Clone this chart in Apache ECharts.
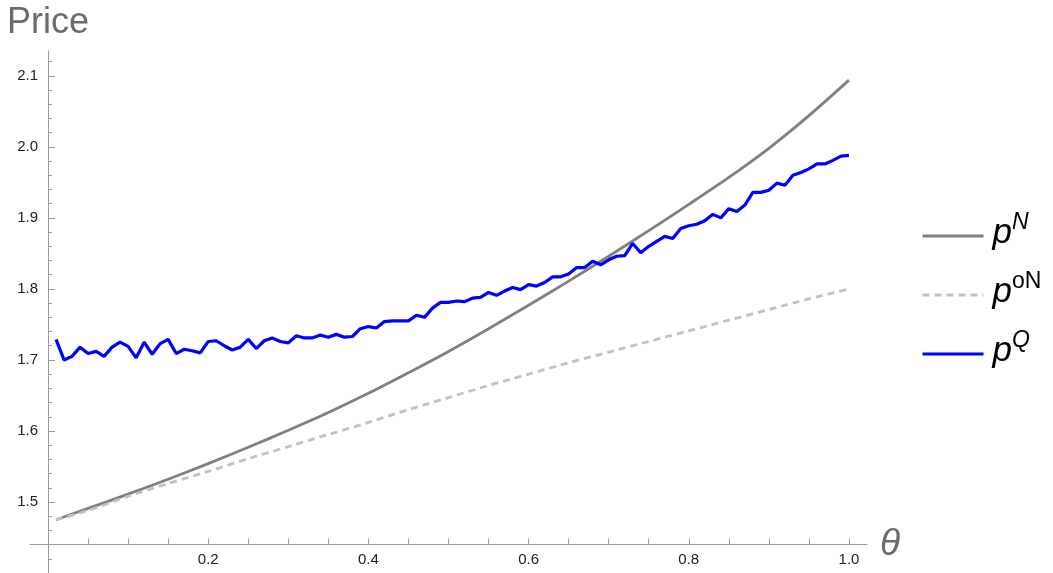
<!DOCTYPE html>
<html>
<head>
<meta charset="utf-8">
<script src="https://cdn.jsdelivr.net/npm/echarts@6/dist/echarts.min.js"></script>
<style>
  html, body { margin: 0; padding: 0; background: #fff; }
  #myChart { width: 1053px; height: 573px; }
</style>
</head>
<body>
<div id="myChart"></div>
<script>
// theta grid used for the two smooth price curves
const thetaCurve = [0.01, 0.05, 0.10, 0.15, 0.20, 0.25, 0.30, 0.35, 0.40, 0.45, 0.50,
  0.55, 0.60, 0.65, 0.70, 0.75, 0.80, 0.85, 0.90, 0.95, 1.00]
const pN = [1.475, 1.491, 1.511, 1.532, 1.554, 1.577, 1.601, 1.626, 1.653, 1.682, 1.712,
  1.744, 1.777, 1.811, 1.846, 1.882, 1.919, 1.957, 1.998, 2.044, 2.094]
const pON = [1.475, 1.488, 1.508, 1.526, 1.543, 1.561, 1.578, 1.595, 1.612, 1.630, 1.647,
  1.664, 1.680, 1.696, 1.711, 1.726, 1.741, 1.756, 1.771, 1.786, 1.800]
// simulated price, one value per theta = 0.01 ... 1.00
const pQ = [
  1.729, 1.700, 1.705, 1.718, 1.709, 1.712, 1.705, 1.718, 1.725, 1.719,
  1.703, 1.725, 1.708, 1.723, 1.729, 1.709, 1.715, 1.713, 1.710, 1.726,
  1.727, 1.720, 1.714, 1.718, 1.729, 1.716, 1.727, 1.731, 1.726, 1.724,
  1.734, 1.731, 1.731, 1.735, 1.732, 1.736, 1.732, 1.733, 1.744, 1.747,
  1.745, 1.754, 1.755, 1.755, 1.755, 1.763, 1.760, 1.773, 1.781, 1.781,
  1.783, 1.782, 1.787, 1.788, 1.795, 1.791, 1.797, 1.802, 1.799, 1.806,
  1.804, 1.809, 1.817, 1.817, 1.821, 1.830, 1.830, 1.839, 1.834, 1.841,
  1.846, 1.847, 1.864, 1.851, 1.860, 1.867, 1.874, 1.871, 1.885, 1.889,
  1.891, 1.896, 1.905, 1.900, 1.913, 1.909, 1.918, 1.936, 1.936, 1.939,
  1.949, 1.946, 1.960, 1.964, 1.969, 1.976, 1.976, 1.981, 1.987, 1.988
]
const xLabels = [0.2, 0.4, 0.6, 0.8, 1.0]
const xTicks = [0.05, 0.1, 0.15, 0.2, 0.25, 0.3, 0.35, 0.4, 0.45, 0.5,
  0.55, 0.6, 0.65, 0.7, 0.75, 0.8, 0.85, 0.9, 0.95, 1.0]
const yLabels = [1.5, 1.6, 1.7, 1.8, 1.9, 2.0, 2.1]
const yMinorTicks = [1.42, 1.44, 1.46, 1.48, 1.52, 1.54, 1.56, 1.58, 1.62, 1.64, 1.66, 1.68,
  1.72, 1.74, 1.76, 1.78, 1.82, 1.84, 1.86, 1.88, 1.92, 1.94, 1.96, 1.98,
  2.02, 2.04, 2.06, 2.08, 2.12]

const X_MIN = -0.0225
const X_MAX = 1.0225
const Y_MIN = 1.40
const Y_MAX = 2.135

const FONT = 'Liberation Sans'
const AXIS_COLOR = '#9a9a9a'

const legendText = {
  pN: '{p|p}{si|N}',
  pON: '{p|p}{su|oN}',
  pQ: '{p|p}{si|Q}'
}

const option = {
  animation: false,
  backgroundColor: '#fff',
  title: {
    text: 'Price',
    left: 7,
    top: 5,
    padding: 0,
    textStyle: { fontFamily: FONT, fontSize: 36, fontWeight: 'normal', color: '#6b6b6b' }
  },
  legend: {
    orient: 'vertical',
    left: 921,
    top: 211,
    padding: 0,
    itemWidth: 61,
    itemHeight: 14,
    itemGap: 19,
    data: ['pN', 'pON', 'pQ'],
    itemStyle: { opacity: 0 },
    lineStyle: { width: 3 },
    formatter: name => legendText[name],
    textStyle: {
      fontFamily: FONT,
      color: '#000',
      padding: [0, 0, 10, 4],
      rich: {
        p: { fontFamily: FONT, fontSize: 35, fontStyle: 'italic', verticalAlign: 'bottom', lineHeight: 40 },
        si: { fontFamily: FONT, fontSize: 23, fontStyle: 'italic', verticalAlign: 'top', lineHeight: 18 },
        su: { fontFamily: FONT, fontSize: 23, verticalAlign: 'top', lineHeight: 18 }
      }
    }
  },
  grid: { left: 30, width: 837, top: 51, bottom: 0 },
  xAxis: [
    {
      type: 'value',
      min: X_MIN,
      max: X_MAX,
      offset: -28.4,
      name: 'θ',
      nameLocation: 'end',
      nameGap: 13,
      nameTextStyle: { fontFamily: FONT, fontSize: 37, fontStyle: 'italic', color: '#6b6b6b' },
      axisLine: { onZero: false, lineStyle: { color: AXIS_COLOR, width: 1 } },
      axisTick: { customValues: xTicks, inside: true, length: 6, lineStyle: { color: AXIS_COLOR } },
      axisLabel: {
        customValues: xLabels,
        formatter: v => v.toFixed(1),
        fontFamily: FONT,
        fontSize: 15,
        color: '#222',
        margin: 8
      },
      splitLine: { show: false }
    },
    // hidden twin, only used as the zero line for the minor y ticks
    { type: 'value', min: X_MIN, max: X_MAX, show: false }
  ],
  yAxis: [
    {
      type: 'value',
      position: 'left',
      min: Y_MIN,
      max: Y_MAX,
      axisLine: { onZero: true, onZeroAxisIndex: 0, lineStyle: { color: AXIS_COLOR, width: 1 } },
      axisTick: { customValues: yLabels, inside: true, length: 7, lineStyle: { color: AXIS_COLOR } },
      axisLabel: {
        customValues: yLabels,
        formatter: v => v.toFixed(1),
        fontFamily: FONT,
        fontSize: 15,
        color: '#222',
        // labels are anchored at the grid edge, the axis sits 18px further right
        margin: -8
      },
      splitLine: { show: false }
    },
    {
      type: 'value',
      position: 'left',
      min: Y_MIN,
      max: Y_MAX,
      axisLine: { show: false, onZero: true, onZeroAxisIndex: 1 },
      axisTick: { customValues: yMinorTicks, inside: true, length: 4, lineStyle: { color: AXIS_COLOR } },
      axisLabel: { show: false },
      splitLine: { show: false }
    }
  ],
  series: [
    {
      name: 'pN',
      type: 'line',
      symbol: 'none',
      smooth: 0.3,
      lineStyle: { color: '#808080', width: 2.8 },
      itemStyle: { color: '#808080' },
      data: thetaCurve.map((t, i) => [t, pN[i]])
    },
    {
      name: 'pON',
      type: 'line',
      symbol: 'none',
      smooth: 0.3,
      lineStyle: { color: '#c2c2c2', width: 2.8, type: [7, 5] },
      itemStyle: { color: '#c2c2c2' },
      data: thetaCurve.map((t, i) => [t, pON[i]])
    },
    {
      name: 'pQ',
      type: 'line',
      symbol: 'none',
      lineStyle: { color: '#0000ff', width: 3.2 },
      itemStyle: { color: '#0000ff' },
      data: pQ.map((v, i) => [(i + 1) / 100, v])
    }
  ]
}

const myChart = echarts.init(document.getElementById('myChart'))
myChart.setOption(option)
</script>
</body>
</html>
